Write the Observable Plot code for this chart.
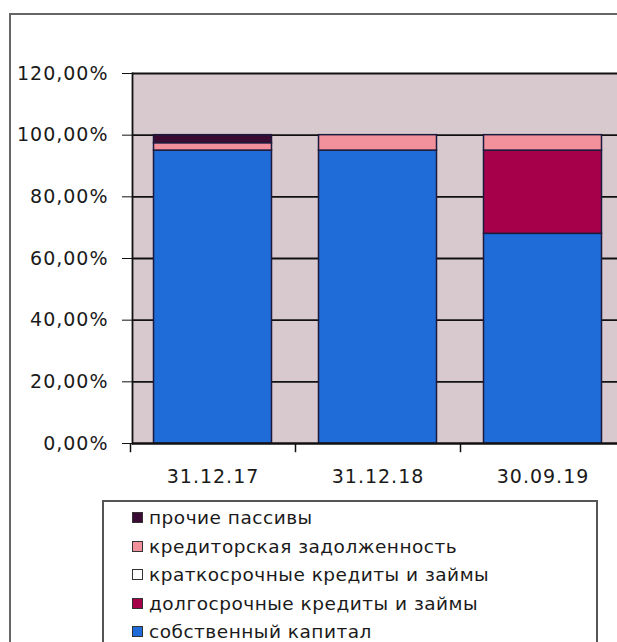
<!DOCTYPE html>
<html><head><meta charset="utf-8">
<script src="https://cdn.jsdelivr.net/npm/d3@7"></script>
<script src="https://cdn.jsdelivr.net/npm/@observablehq/plot@0.6"></script>
<style>
body{margin:0;background:#fff;}
#wrap{position:relative;width:617px;height:642px;overflow:hidden;font-family:"DejaVu Sans",sans-serif;}
#outer{position:absolute;left:9px;top:13px;width:700px;height:700px;border-left:2px solid #666;border-top:2px solid #666;pointer-events:none;}
#legend{position:absolute;left:102px;top:500px;width:496px;height:200px;border:2px solid #555;background:#fff;box-sizing:border-box;}
.item{position:absolute;left:28px;display:flex;align-items:center;font-size:18.5px;line-height:21px;letter-spacing:0.5px;color:#1a1a1a;white-space:nowrap;}
.sw{width:11px;height:11px;border:1px solid #333;margin-right:6px;box-sizing:border-box;}
</style></head>
<body><div id="wrap"><div id="chart"></div><div id="outer"></div><div id="legend"></div></div>
<script>
const dates = ["31.12.17", "31.12.18", "30.09.19"];
const seriesNames = ["собственный капитал", "долгосрочные кредиты и займы", "краткосрочные кредиты и займы", "кредиторская задолженность", "прочие пассивы"];
const seriesColors = ["#1f6bd8", "#a6004a", "#ffffff", "#f2909c", "#3a0c34"];
const capital = [95.0, 95.0, 68.0];
const longTerm = [0, 0, 27.0];
const shortTerm = [0, 0, 0];
const payables = [2.4, 5.0, 5.0];
const other = [2.6, 0, 0];
const yTicks = [0, 20, 40, 60, 80, 100, 120];
const legendOrder = ["прочие пассивы", "кредиторская задолженность", "краткосрочные кредиты и займы", "долгосрочные кредиты и займы", "собственный капитал"];

const seriesValues = [capital, longTerm, shortTerm, payables, other];
const rows = [];
dates.forEach((d, i) => seriesNames.forEach((s, j) => rows.push({date: d, series: s, value: seriesValues[j][i]})));

const fmt = v => v.toFixed(2).replace(".", ",") + "%";

const chart = Plot.plot({
  width: 617, height: 500,
  marginLeft: 132, marginTop: 73, marginBottom: 57, marginRight: 0,
  style: {background: "transparent", fontFamily: "DejaVu Sans, sans-serif", fontSize: "19px", color: "#1a1a1a", letterSpacing: "1px"},
  x: {domain: dates, range: [130, 625], padding: 0, label: null},
  y: {domain: [0, 120], label: null},
  color: {domain: seriesNames, range: seriesColors},
  marks: [
    Plot.frame({fill: "#d8c9cf", stroke: null}),
    Plot.gridY(yTicks, {stroke: "#111", strokeOpacity: 1, strokeWidth: 1.8}),
    Plot.barY(rows.filter(r => r.value > 0), {x: "date", y: "value", fill: "series", order: seriesNames, stroke: "#1c1a3c", strokeWidth: 1.5, insetLeft: 23.5, insetRight: 23.5}),
    Plot.frame({anchor: "left", stroke: "#111", strokeWidth: 1.8}),
    Plot.ruleY([0], {stroke: "#111", strokeWidth: 1.8}),
    Plot.ruleX(dates, {x: d => d, y1: 0, y2: -3, dx: -82.5, stroke: "#111", strokeWidth: 1.5}),
    Plot.axisY(yTicks, {tickSize: 10, tickPadding: 14, tickFormat: fmt, stroke: "#111", fontSize: 19, label: null}),
    Plot.axisX({tickSize: 0, tickPadding: 26, fontSize: 19, label: null})
  ]
});
document.getElementById("chart").appendChild(chart);

const legend = document.getElementById("legend");
legendOrder.forEach((name, i) => {
  const it = document.createElement("div");
  it.className = "item";
  it.style.top = (5 + i * 28.5) + "px";
  const sw = document.createElement("span");
  sw.className = "sw";
  sw.style.background = seriesColors[seriesNames.indexOf(name)];
  it.appendChild(sw);
  it.appendChild(document.createTextNode(name));
  legend.appendChild(it);
});
</script></body></html>
